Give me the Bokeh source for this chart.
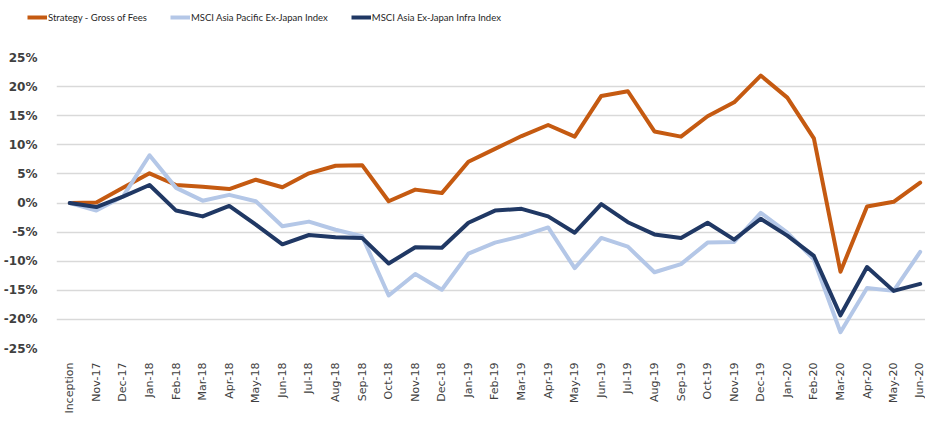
from bokeh.plotting import figure
from bokeh.layouts import column, row
from bokeh.models import Range1d, FixedTicker, PrintfTickFormatter, Legend, LegendItem
from bokeh.embed import file_html
from bokeh.resources import INLINE
import math

categories = ["Inception", "Nov-17", "Dec-17",
              "Jan-18", "Feb-18", "Mar-18", "Apr-18", "May-18", "Jun-18",
              "Jul-18", "Aug-18", "Sep-18", "Oct-18", "Nov-18", "Dec-18",
              "Jan-19", "Feb-19", "Mar-19", "Apr-19", "May-19", "Jun-19",
              "Jul-19", "Aug-19", "Sep-19", "Oct-19", "Nov-19", "Dec-19",
              "Jan-20", "Feb-20", "Mar-20", "Apr-20", "May-20", "Jun-20"]

strategy = [0.0, 0.1, 2.6, 5.1, 3.1, 2.8, 2.4, 4.0, 2.7, 5.1, 6.4,
            6.5, 0.3, 2.3, 1.7, 7.1, 9.3, 11.5, 13.4, 11.4, 18.4,
            19.2, 12.3, 11.4, 14.9, 17.3, 21.9, 18.1, 11.1, -11.8, -0.6, 0.2, 3.5]

apac = [0.0, -1.3, 1.1, 8.2, 2.6, 0.4, 1.4, 0.3, -4.0, -3.2, -4.6,
        -5.7, -15.9, -12.2, -14.9, -8.7, -6.8, -5.7, -4.2, -11.2, -6.0,
        -7.5, -11.9, -10.5, -6.8, -6.7, -1.7, -5.1, -9.7, -22.2, -14.6, -15.1, -8.4]

infra = [0.0, -0.7, 1.1, 3.1, -1.3, -2.3, -0.5, -3.7, -7.1, -5.5, -5.9,
         -6.0, -10.4, -7.6, -7.7, -3.4, -1.3, -1.0, -2.3, -5.1, -0.2,
         -3.3, -5.4, -6.0, -3.4, -6.3, -2.7, -5.6, -9.1, -19.3, -11.0, -15.1, -13.9]

y_ticks = [-25, -20, -15, -10, -5, 0, 5, 10, 15, 20, 25]

series_names = ["Strategy - Gross of Fees", "MSCI Asia Pacific Ex-Japan Index",
                "MSCI Asia Ex-Japan Infra Index"]
colors = ["#C55A11", "#B4C7E7", "#203864"]

x = list(range(len(categories)))
all_series = [strategy, apac, infra]

# ---- legend strip (series drawn out of view, only the legend shows) ----
lf = figure(width=925, height=48, output_backend="svg", toolbar_location=None,
            x_range=Range1d(0, 1), y_range=Range1d(100, 101),
            x_axis_type=None, y_axis_type=None,
            min_border_left=0, min_border_right=0, min_border_top=0, min_border_bottom=0)
lf.outline_line_color = None
lf.xgrid.grid_line_color = None
lf.ygrid.grid_line_color = None
lf_lines = [lf.line(x, d, line_color=c, line_width=4) for d, c in zip(all_series, colors)]
legend = Legend(items=[LegendItem(label=n, renderers=[r]) for n, r in zip(series_names, lf_lines)],
                orientation="horizontal", location=(27, 22),
                padding=0, margin=0, spacing=23, label_standoff=1,
                glyph_width=20, glyph_height=18, label_height=18,
                border_line_color=None, background_fill_alpha=0,
                label_text_font="Lato", label_text_font_size="9.5px",
                label_text_color="#262626")
lf.add_layout(legend)

# ---- main chart ----
p = figure(width=925, height=368, output_backend="svg", toolbar_location=None,
           x_range=Range1d(-0.5, 32.2), y_range=Range1d(-25, 25),
           min_border_left=47, min_border_right=0, min_border_top=9,
           min_border_bottom=66)
p.outline_line_color = None
p.background_fill_color = "white"
p.border_fill_color = "white"

for data, c in zip(all_series, colors):
    p.line(x, data, line_color=c, line_width=4, line_join="round", line_cap="round")

p.yaxis.ticker = FixedTicker(ticks=y_ticks)
p.yaxis.formatter = PrintfTickFormatter(format="%d%%")
p.yaxis.axis_line_color = None
p.yaxis.major_tick_line_color = None
p.yaxis.minor_tick_line_color = None
p.yaxis.major_label_text_font = "DejaVu Sans"
p.yaxis.major_label_text_font_style = "bold"
p.yaxis.major_label_text_font_size = "12px"
p.yaxis.major_label_text_color = "#404040"
p.yaxis.major_label_standoff = 13

p.xaxis.ticker = FixedTicker(ticks=x)
p.xaxis.major_label_overrides = {i: c for i, c in enumerate(categories)}
p.xaxis.major_label_orientation = math.pi / 2
p.xaxis.axis_line_color = None
p.xaxis.major_tick_line_color = None
p.xaxis.minor_tick_line_color = None
p.xaxis.major_label_text_font = "DejaVu Sans"
p.xaxis.major_label_text_font_size = "11px"
p.xaxis.major_label_text_color = "#404040"
p.xaxis.major_label_standoff = 8

p.xgrid.grid_line_color = None
p.ygrid.ticker = FixedTicker(ticks=y_ticks)
p.ygrid.grid_line_color = "#D9D9D9"
p.ygrid.grid_line_width = 1.5

# keep the legend strip's frame from being aligned with the chart's frame
if "frame_align" in lf.properties():
    lf.frame_align = False
    layout = column(lf, p, spacing=0)
else:
    layout = column(row(lf), p, spacing=0)

open("out.html", "w").write(file_html(layout, INLINE))
